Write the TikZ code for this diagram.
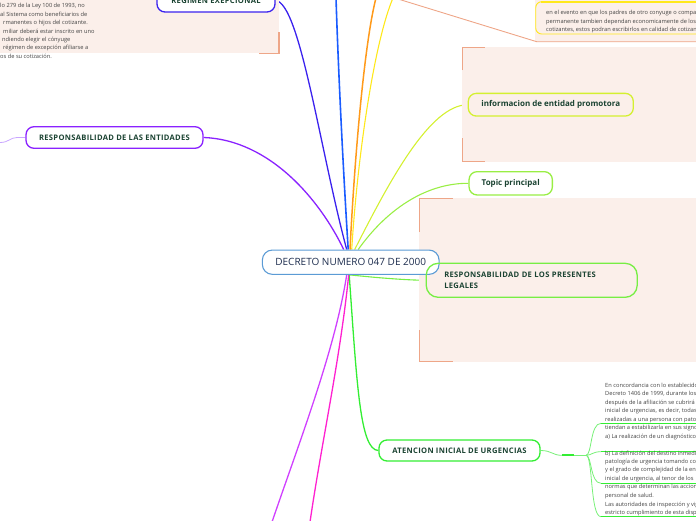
\documentclass[tikz,border=0pt]{standalone}
\usepackage{fontspec}
\setmainfont{Open Sans}
\definecolor{pinkbg}{HTML}{FBEFEA}
\definecolor{salmon}{HTML}{EEA688}
\definecolor{txtgreen}{HTML}{1B4332}
\definecolor{txtgray}{HTML}{444444}
\definecolor{cDec}{HTML}{5B9BD5}
\definecolor{cDecTxt}{HTML}{1E2E4F}
\definecolor{cEnt}{HTML}{8A22FF}
\definecolor{cEntLt}{HTML}{C9A6FF}
\definecolor{cReg}{HTML}{3B22EE}
\definecolor{cRegLt}{HTML}{8C8CFF}
\definecolor{cBlue}{HTML}{1A5CFF}
\definecolor{cOrange}{HTML}{FF9A1A}
\definecolor{cYellow}{HTML}{FFE81A}
\definecolor{cInfo}{HTML}{D4F030}
\definecolor{cInfoLt}{HTML}{E6F57F}
\definecolor{cTopic}{HTML}{99EE44}
\definecolor{cPres}{HTML}{77EE44}
\definecolor{cPresLt}{HTML}{A6F28A}
\definecolor{cAten}{HTML}{33EE33}
\definecolor{cAtenLt}{HTML}{77F077}
\definecolor{cMag}{HTML}{D040FF}
\definecolor{cPink}{HTML}{FF20D0}
\pgfdeclarelayer{bg}
\pgfsetlayers{bg,main}
\begin{document}
\begin{tikzpicture}[x=1pt,y=-1pt,
  topic/.style={rounded corners=8, line width=1.3, inner sep=0pt,
    font=\fontsize{7.6}{11}\selectfont\bfseries\addfontfeature{LetterSpace=4}, text=txtgreen},
  lowtopic/.style={font=\fontsize{8}{10}\selectfont\bfseries},
  small/.style={anchor=west, inner sep=0pt, text=txtgray, font=\fontsize{5.7}{7}\selectfont},
  branch/.style={line width=1.3},
  sub/.style={line width=0.8},
  subthick/.style={line width=1.7}]
\useasboundingbox (0,0) rectangle (696,520);
\clip (0,0) rectangle (696,520);

% ---------- boundary backgrounds ----------
\fill[pinkbg] (0,-1) rectangle (279,53.3);
\draw[salmon, line width=1.2] (279,32) -- (279,53.3) -- (259,53.3);
\fill[pinkbg] (535,-1) rectangle (697,41.7);
\draw[salmon, line width=0.9] (398,-1) -- (536.7,41.7) -- (697,41.7);
\fill[pinkbg] (462.3,47.3) rectangle (697,161.7);
\draw[salmon, line width=1.2] (462.3,70) -- (462.3,47.3) -- (485,47.3);
\draw[salmon, line width=1.2] (462.3,138) -- (462.3,161.7) -- (485,161.7);
\fill[pinkbg] (419.3,198.3) rectangle (697,361.7);
\draw[salmon, line width=1.2] (419.3,232) -- (419.3,198.3) -- (453,198.3);
\draw[salmon, line width=1.2] (419.3,330) -- (419.3,361.7) -- (453,361.7);

% ---------- main nodes ----------
\node[topic, draw=cDec, fill=white, rounded corners=10, line width=1.1,
  minimum width=176.7, minimum height=24.3,
  font=\fontsize{10}{12}\selectfont, text=cDecTxt] (dec) at (350.7,262.2) {DECRETO NUMERO 047 DE 2000};
\node[topic, draw=cEnt, fill=white, minimum width=177, minimum height=21.6] (ent) at (114.5,137.5) {RESPONSABILIDAD DE LAS ENTIDADES};
\node[topic, draw=cReg, fill=white, minimum width=118, minimum height=23] (reg) at (216,0.5) {REGIMEN EXEPCIONAL};
\node[topic, lowtopic, draw=cInfo, minimum width=165, minimum height=22.7] (info) at (550.8,104.7) {informacion de entidad promotora};
\node[topic, lowtopic, draw=cTopic, fill=white, minimum width=83.3, minimum height=23.3] (topic) at (510.7,183.3) {Topic principal};
\node[topic, draw=cPres, rounded corners=12, minimum width=211, minimum height=34,
  text width=174.8, align=left] (pres) at (531.7,280.3) {RESPONSABILIDAD DE LOS PRESENTES\\LEGALES};
\node[topic, draw=cAten, fill=white, minimum width=161, minimum height=21] (aten) at (459.5,450.5) {ATENCION INICIAL DE URGENCIAS};

% ---------- free ends ----------
\coordinate (eB) at (336,-2);
\coordinate (eO) at (376,-2);
\coordinate (eY) at (393,-2);
\coordinate (eM1) at (272,522);
\coordinate (eM2) at (310,522);

% ---------- texts ----------
\node[small] (tl1) at (0,6) {lo 279 de la Ley 100 de 1993, no};
\node[small] (tl2) at (0,14.5) {al Sistema como beneficiarios de};
\node[small] (tl3) at (3,23) {rmanentes o hijos del cotizante.};
\node[small] (tl4) at (3,31.5) {miliar deberá estar inscrito en uno};
\node[small] (tl5) at (2,40) {ndiendo elegir el cónyuge};
\node[small] (tl6) at (3,48.3) {régimen de excepción afiliarse a};
\node[small] (tl7) at (0,56.7) {os de su cotización.};

\draw[cYellow, line width=0.9, rounded corners=6] (720,1.7) -- (535.7,1.7) -- (535.7,34) -- (720,34);
\draw[cYellow, line width=1.8] (541,1.7) -- (697,1.7);
\node[small] (tr1) at (546,13.3) {en el evento en que los padres de otro conyuge o compañero};
\node[small] (tr2) at (546,21.6) {permanente tambien dependan economicamente de los};
\node[small] (tr3) at (546,29.8) {cotizantes, estos podran escribirlos en calidad de cotizantes};

\node[small] (b0) at (605,385.5) {En concordancia con lo establecido en el};
\node[small] (b1) at (605,394) {Decreto 1406 de 1999, durante los};
\node[small] (b2) at (605,402.5) {después de la afiliación se cubrirá la};
\node[small] (b3) at (605,411) {inicial de urgencias, es decir, todas las};
\node[small] (b4) at (605,419.5) {realizadas a una persona con patología};
\node[small] (b5) at (605,428) {tiendan a estabilizarla en sus signos};
\node[small] (b6) at (605,436.5) {a) La realización de un diagnóstico};
\node[small] (b8) at (605,453.5) {b) La definición del destino inmediato};
\node[small] (b9) at (605,462) {patología de urgencia tomando como};
\node[small] (b10) at (605,470.5) {y el grado de complejidad de la entidad};
\node[small] (b11) at (605,479) {inicial de urgencia, al tenor de los};
\node[small] (b12) at (605,487.5) {normas que determinan las acciones};
\node[small] (b13) at (605,496) {personal de salud.};
\node[small] (b14) at (605,504.5) {Las autoridades de inspección y vigilancia};
\node[small] (b15) at (605,513) {estricto cumplimiento de esta disposición};

% ---------- connectors ----------
\begin{pgfonlayer}{bg}
\draw[branch, cEnt] ([xshift=-7]dec.north) .. controls (320,200) and (270,140) .. (ent.east);
\draw[branch, cReg] ([xshift=-4]dec.north) .. controls (320,150) and (300,3) .. (reg.east);
\draw[branch, cBlue, line width=1.6] ([xshift=-2.5]dec.north) .. controls (342,150) and (338,60) .. (eB);
\draw[branch, cOrange, line width=1.5] ([xshift=-0.7]dec.north) .. controls (355,150) and (365,40) .. (eO);
\draw[branch, cYellow, line width=1.1] ([xshift=1]dec.north) .. controls (358,150) and (375,40) .. (eY);
\draw[branch, cInfo, line width=1.1] ([xshift=4]dec.north) .. controls (390,180) and (430,105) .. (info.west);
\draw[branch, cTopic, line width=1.1] ([xshift=7.5]dec.north) .. controls (390,205) and (430,183) .. (topic.west);
\draw[branch, cPres, line width=1.1] ([xshift=-1]dec.south) .. controls (380,278) and (405,280) .. (pres.west);
\draw[branch, cAten] ([xshift=-1.5]dec.south) .. controls (357,385) and (360,450) .. (aten.west);
\draw[branch, cMag] ([xshift=-4]dec.south) .. controls (335,350) and (300,440) .. (eM1);
\draw[branch, cPink] ([xshift=-2]dec.south) .. controls (340,360) and (322,440) .. (eM2);

% entidades left
\draw[sub, cEntLt] (ent.west) -- (17,137.5) .. controls (10,137.5) and (9,142.5) .. (0,142.5);
% regimen left
\draw[sub, cRegLt] (reg.west) .. controls (146,1) and (142,5.7) .. (131.7,5.7);
\draw[subthick, cReg] (131.7,5.7) -- (121.7,5.7);
\draw[sub, cRegLt] (121.7,5.7) .. controls (105,5.7) and (108,44.3) .. (96,44.3);
\draw[cReg, line width=1.3] (96,44.3) -- (0,44.3);

% informacion right
\draw[sub, cInfoLt] (info.east) .. controls (645,104.7) and (650,110) .. (660,110);
\draw[subthick, cInfo] (660,110) -- (672,110);
\draw[sub, cInfoLt] (672,110) -- (681,110) .. controls (689,110) and (689,116.7) .. (697,116.7);
\draw[sub, cInfoLt] (681,110) .. controls (689,110) and (686,150) .. (697,150);

% presentes right
\draw[sub, cPresLt] (pres.east) .. controls (648,280.3) and (652,285.7) .. (663,285.7);
\draw[subthick, cPres] (663,285.7) -- (673,285.7);
\draw[sub, cPresLt] (673,285.7) -- (684,285.7) .. controls (690,285.7) and (689,253) .. (697,253);
\draw[sub, cPresLt] (684,285.7) .. controls (690,285.7) and (691,293) .. (697,293);
\draw[sub, cPresLt] (684,285.7) .. controls (691,285.7) and (687,347) .. (697,347);

% atencion right
\draw[sub, cAtenLt] (aten.east) .. controls (552,450.5) and (552,455.3) .. (562,455.3);
\draw[subthick, cAten] (562,455.3) -- (574,455.3);
\draw[sub, cAtenLt] (574,455.3) -- (586,455.3);
\draw[sub, cAtenLt] (586,455.3) .. controls (592,455.3) and (590,423.3) .. (601,423.3);
\draw[sub, cAtenLt] (586,455.3) .. controls (592,455.3) and (592,451.7) .. (601,451.7);
\draw[sub, cAtenLt] (586,455.3) .. controls (592,455.3) and (590,483.3) .. (601,483.3);
\draw[sub, cAtenLt] (586,455.3) .. controls (593,455.3) and (590,516.7) .. (601,516.7);
\draw[cAten, line width=1.2] (601,423.3) -- (697,423.3);
\draw[cAten, line width=1.2] (601,451.7) -- (697,451.7);
\draw[cAten, line width=1.2] (601,483.3) -- (697,483.3);
\draw[cAten, line width=1.2] (601,516.7) -- (697,516.7);
\end{pgfonlayer}
\end{tikzpicture}
\end{document}
